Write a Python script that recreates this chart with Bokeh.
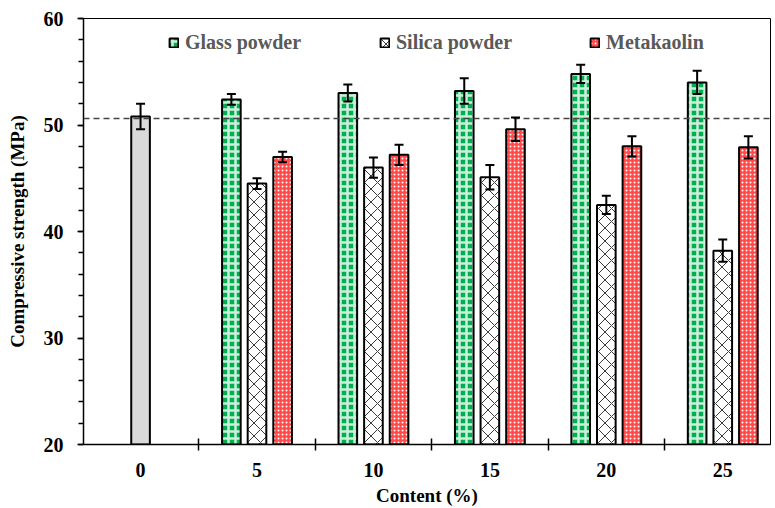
from bokeh.plotting import figure
from bokeh.models import (ColumnDataSource, Whisker, TeeHead, Span, Legend,
                          LegendItem, FixedTicker, Range1d)
from bokeh.embed import file_html
from bokeh.resources import INLINE

# ---------------- data ----------------
contents = ["0", "5", "10", "15", "20", "25"]
control_value = [50.8]
control_err = [1.2]
reference_line = 50.6
glass = [52.4, 53.0, 53.2, 54.8, 54.0]
glass_err = [0.5, 0.8, 1.2, 0.85, 1.1]
silica = [44.5, 46.0, 45.1, 42.5, 38.2]
silica_err = [0.5, 0.95, 1.15, 0.85, 1.05]
meta = [47.0, 47.2, 49.6, 48.0, 47.9]
meta_err = [0.5, 0.95, 1.1, 0.95, 1.05]

FONT = "Liberation Serif"
BAR_W = 0.16
OFFSET = 0.22

pos = list(range(len(contents)))
mix_pos = pos[1:]


def src(xs, vals, errs, shift):
    x = [p + shift for p in xs]
    return ColumnDataSource(dict(
        x=x, top=vals,
        upper=[v + e for v, e in zip(vals, errs)],
        lower=[v - e for v, e in zip(vals, errs)],
    ))


p = figure(width=775, height=508, output_backend="svg", toolbar_location=None,
           x_range=Range1d(-0.49, 5.41), y_range=Range1d(20, 60),
           min_border_left=83, min_border_right=5, min_border_top=18,
           min_border_bottom=62)
p.background_fill_color = "white"
p.border_fill_color = "white"
p.grid.visible = False
p.outline_line_color = "black"
p.outline_line_width = 1

s_ctrl = src(pos[:1], control_value, control_err, 0.0)
s_glass = src(mix_pos, glass, glass_err, -OFFSET)
s_sil = src(mix_pos, silica, silica_err, 0.0)
s_meta = src(mix_pos, meta, meta_err, OFFSET)

p.vbar(x="x", top="top", bottom=20, width=BAR_W, source=s_ctrl,
       fill_color="#d9d9d9", line_color="black", line_width=2)
r_glass = p.vbar(x="x", top="top", bottom=20, width=BAR_W, source=s_glass,
                 fill_color="#00b050", line_color="black", line_width=2,
                 hatch_pattern="cross", hatch_color="white", hatch_weight=2.5,
                 hatch_scale=7, hatch_alpha=0.8)
r_sil = p.vbar(x="x", top="top", bottom=20, width=BAR_W, source=s_sil,
               fill_color="white", line_color="black", line_width=2,
               hatch_pattern="diagonal_cross", hatch_color="#222222", hatch_weight=0.9,
               hatch_scale=13)
r_meta = p.vbar(x="x", top="top", bottom=20, width=BAR_W, source=s_meta,
                fill_color="#ff4a4a", line_color="black", line_width=2,
                hatch_pattern="dot", hatch_color="white", hatch_weight=1.5,
                hatch_scale=4, hatch_alpha=1.0)

for s in (s_ctrl, s_glass, s_sil, s_meta):
    p.add_layout(Whisker(source=s, base="x", upper="upper", lower="lower",
                         level="overlay",
                         line_color="black", line_width=2,
                         upper_head=TeeHead(size=9, line_width=2, line_color="black"),
                         lower_head=TeeHead(size=9, line_width=2, line_color="black")))

p.add_layout(Span(location=reference_line, dimension="width", line_color="#444444",
                  line_width=1.5, line_dash="6 4"))

# ---------------- axes ----------------
xa = p.xaxis[0]
xa.ticker = FixedTicker(ticks=pos, minor_ticks=[q + 0.5 for q in pos[:-1]])
xa.major_label_overrides = {i: c for i, c in enumerate(contents)}
xa.major_tick_in = 0
xa.major_tick_out = 0
xa.minor_tick_in = 6
xa.minor_tick_out = 6
xa.minor_tick_line_color = "black"
xa.minor_tick_line_width = 1.5
xa.axis_line_width = 1.5
xa.axis_line_color = "black"
xa.major_label_standoff = 12
xa.axis_label = "Content (%)"
xa.axis_label_standoff = 5

ya = p.yaxis[0]
ya.ticker = FixedTicker(ticks=[20, 30, 40, 50, 60],
                        minor_ticks=[v for v in range(20, 61, 2)])
ya.major_tick_in = 0
ya.major_tick_out = 6
ya.minor_tick_in = 0
ya.minor_tick_out = 5
ya.major_tick_line_width = 1.5
ya.minor_tick_line_width = 1.5
ya.axis_line_width = 1.5
ya.major_label_standoff = 14
ya.axis_label = "Compressive strength (MPa)"
ya.axis_label_standoff = 13

for ax in (xa, ya):
    ax.major_label_text_font = FONT
    ax.major_label_text_font_style = "bold"
    ax.major_label_text_font_size = "20px"
    ax.major_label_text_color = "black"
    ax.axis_label_text_font = FONT
    ax.axis_label_text_font_style = "bold"
    ax.axis_label_text_font_size = "19px"
    ax.axis_label_text_color = "black"
    ax.major_tick_line_color = "black"
    ax.minor_tick_line_color = "black"

# ---------------- legends ----------------
for label, r, x in (("Glass powder", r_glass, 85),
                    ("Silica powder", r_sil, 296),
                    ("Metakaolin", r_meta, 506)):
    leg = Legend(items=[LegendItem(label=label, renderers=[r])], location=(x, 390),
                 orientation="horizontal", padding=0, margin=0,
                 border_line_alpha=0, background_fill_alpha=0,
                 glyph_width=11, glyph_height=11, label_standoff=6,
                 label_height=20,
                 label_text_font=FONT, label_text_font_style="bold",
                 label_text_font_size="20px", label_text_color="#595959")
    p.add_layout(leg)

open("out.html", "w").write(file_html(p, INLINE))
